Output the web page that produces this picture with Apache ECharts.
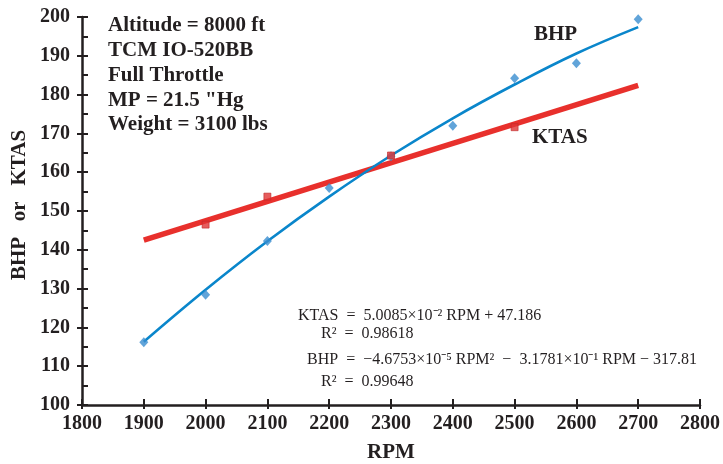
<!DOCTYPE html>
<html>
<head>
<meta charset="utf-8">
<script src="https://cdn.jsdelivr.net/npm/echarts@6/dist/echarts.min.js"></script>
<style>
html,body{margin:0;padding:0;background:#fff;}
#chart{width:723px;height:464px;}
</style>
</head>
<body>
<div id="chart"></div>
<script>
// ---- data ----
const rpm = [1900, 2000, 2100, 2200, 2300, 2400, 2500, 2600, 2700];
const bhp = [116.2, 128.4, 142.3, 155.9, 164.1, 172.0, 184.2, 188.1, 199.4];
const ktasRpm = [2000, 2100, 2300, 2500];
const ktas = [146.5, 153.7, 164.3, 171.6];
// trend lines as drawn in the reference
const bhpTrend = [116.3, 129.7, 142.2, 153.7, 164.3, 173.9, 182.6, 190.6, 197.4];
const ktasTrendRpm = [1900, 2700];
const ktasTrend = [142.5, 182.4];
const xTicks = {min: 1800, max: 2800, step: 100};
const yTicks = {min: 100, max: 200, step: 10};
const notes = ['Altitude = 8000 ft', 'TCM IO-520BB', 'Full Throttle', 'MP = 21.5 "Hg', 'Weight = 3100 lbs'];
const eqs = [
  'KTAS  =  5.0085×10⁻² RPM + 47.186',
  'R²  =  0.98618',
  'BHP  =  −4.6753×10⁻⁵ RPM²  −  3.1781×10⁻¹ RPM − 317.81',
  'R²  =  0.99648'
];

const zip = (xs, ys) => xs.map((x, i) => [x, ys[i]]);
const ink = '#231f20';
const boldFont = 'bold 21px "Liberation Serif"';

const chart = echarts.init(document.getElementById('chart'), null, {renderer: 'canvas'});

const txt = (x, y, text, font, extra) => Object.assign({
  type: 'text', x: x, y: y, z: 100,
  style: {text: text, font: font, fill: ink,
    textAlign: 'left', textVerticalAlign: 'middle', align: 'left', verticalAlign: 'middle'}
}, extra || {});

const graphics = [];
const noteY = [26, 51, 76, 101, 125];
notes.forEach((t, i) => graphics.push(txt(108, noteY[i], t, boldFont)));
graphics.push(txt(534, 35, 'BHP', boldFont));
graphics.push(txt(532, 138, 'KTAS', boldFont));
const eqFont = '16px "Liberation Serif"';
const eqX = [298, 321, 307, 321];
const eqY = [316, 334, 360, 382];
eqs.forEach((t, i) => graphics.push(txt(eqX[i], eqY[i], t, eqFont)));
graphics.push({type: 'text', x: 391, y: 453, z: 100,
  style: {text: 'RPM', font: boldFont, fill: ink, textAlign: 'center', align: 'center', textVerticalAlign: 'middle', verticalAlign: 'middle'}});
graphics.push({type: 'text', x: 20, y: 205, rotation: Math.PI / 2, z: 100,
  style: {text: 'BHP   or   KTAS', font: 'bold 21px "Liberation Serif"', fill: ink, textAlign: 'center', align: 'center', textVerticalAlign: 'middle', verticalAlign: 'middle'}});

chart.setOption({
  animation: false,
  backgroundColor: '#fff',
  grid: {left: 82, right: 23, top: 17, bottom: 59, containLabel: false},
  xAxis: [
    {type: 'value', min: xTicks.min, max: xTicks.max, interval: xTicks.step,
     axisLine: {show: true, onZero: false, lineStyle: {color: ink, width: 2.5}},
     axisTick: {show: true, inside: false, length: 4, lineStyle: {color: ink, width: 2}},
     axisLabel: {color: ink, fontFamily: 'Liberation Serif', fontWeight: 'bold', fontSize: 20, margin: 9,
       showMinLabel: true, showMaxLabel: true, formatter: v => String(v)},
     splitLine: {show: false}},
    {type: 'value', min: xTicks.min, max: xTicks.max, interval: xTicks.step, position: 'bottom',
     axisLine: {show: false, onZero: false},
     axisTick: {show: true, inside: true, length: 6, lineStyle: {color: ink, width: 2}},
     axisLabel: {show: false}, splitLine: {show: false}}
  ],
  yAxis: [
    {type: 'value', min: yTicks.min, max: yTicks.max, interval: yTicks.step,
     axisLine: {show: true, onZero: false, lineStyle: {color: ink, width: 2.5}},
     axisTick: {show: true, inside: false, length: 5, lineStyle: {color: ink, width: 2}},
     axisLabel: {color: ink, fontFamily: 'Liberation Serif', fontWeight: 'bold', fontSize: 20, margin: 12,
       formatter: v => String(v)},
     splitLine: {show: false}},
    {type: 'value', min: yTicks.min, max: yTicks.max, interval: yTicks.step / 2, position: 'left',
     axisLine: {show: false, onZero: false},
     axisTick: {show: true, inside: true, length: 6, lineStyle: {color: ink, width: 2}},
     axisLabel: {show: false}, splitLine: {show: false}}
  ],
  series: [
    {name: 'KTAS fit', type: 'line', data: zip(ktasTrendRpm, ktasTrend), symbol: 'none',
     lineStyle: {color: '#e8302c', width: 5.5}, z: 2, silent: true},
    {name: 'BHP fit', type: 'line', data: zip(rpm, bhpTrend), symbol: 'none', smooth: 0.4,
     lineStyle: {color: '#0a86cb', width: 2.6}, z: 3, silent: true},
    {name: 'BHP', type: 'scatter', data: zip(rpm, bhp), symbol: 'diamond', symbolSize: [9, 10],
     itemStyle: {color: '#3a8dd0'}, z: 4},
    {name: 'KTAS', type: 'scatter', data: zip(ktasRpm, ktas), symbol: 'rect', symbolSize: 7,
     itemStyle: {color: '#e03434', borderColor: '#c02a2a', borderWidth: 0.8}, z: 5}
  ],
  graphic: graphics
});
</script>
</body>
</html>
